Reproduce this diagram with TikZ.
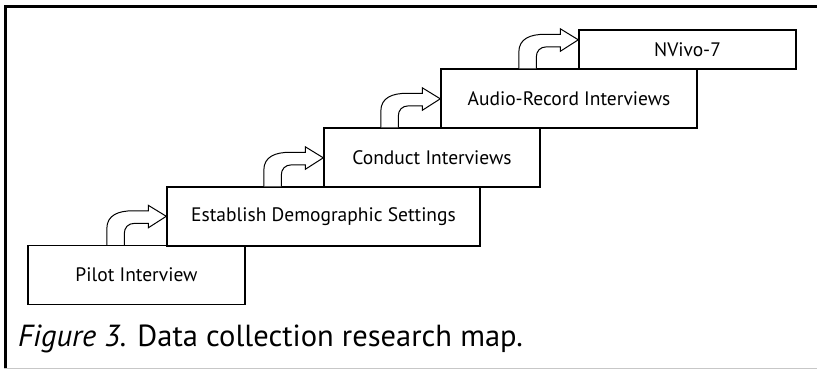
\documentclass[tikz,border=0pt]{standalone}
\usepackage{fontspec}
\setmainfont{PT Sans}
\usepackage{tikz}
\usetikzlibrary{calc}

\tikzset{
  stepbox/.style={draw, line width=1.4pt, rectangle, inner sep=0pt, minimum height=59pt, font=\fontsize{19.5}{21}\selectfont},
  bentarrow/.style={draw, line width=1pt, line join=miter, fill=white}
}

\begin{document}
\begin{tikzpicture}[x=1pt, y=-1pt]
\useasboundingbox (0,0) rectangle (817,369);
%%% frame
\draw[line width=2.4pt] (4,6.5) -- (817,6.5);
\draw[line width=3pt] (5.5,5.3) -- (5.5,368);
\draw[line width=1.4pt, black!22] (4,368.3) -- (817,368.3);
%%% draws the steps
\node[stepbox, minimum width=217pt] (pilot) at (136.5,275) {Pilot Interview};
\node[stepbox, minimum width=313pt] (estab) at (323.5,216.5) {Establish Demographic Settings};
\node[stepbox, minimum width=216pt] (cond) at (432,157.5) {Conduct Interviews};
\node[stepbox, minimum width=256pt] (audio) at (569,98.5) {Audio-Record Interviews};
\node[stepbox, minimum width=217pt, minimum height=39pt] (nvivo) at (687.5,49.5) {NVivo-7};
%%% draws the bent arrows between steps
\foreach \src/\tgt in {pilot/estab, estab/cond, cond/audio, audio/nvivo}{
  \begin{scope}[shift={($(\tgt.west |- \src.north)+(-59.5,0)$)}]
    \draw[bentarrow] (0,0) -- (0,-16) .. controls (0,-30) and (12,-34) .. (26,-34)
      -- (41.5,-34) -- (41.5,-39.5) -- (59.5,-28.5) -- (41.5,-17) -- (41.5,-21.5)
      -- (28,-21.5) .. controls (21,-21.5) and (17.5,-17) .. (17.5,-11) -- (17.5,0);
  \end{scope}
}
%%% caption
\node[anchor=base west, inner sep=0pt, font=\fontsize{30.5}{33}\selectfont] (caption) at (18,346)
  {\textit{Figure 3.} Data collection research map.};
\end{tikzpicture}
\end{document}
